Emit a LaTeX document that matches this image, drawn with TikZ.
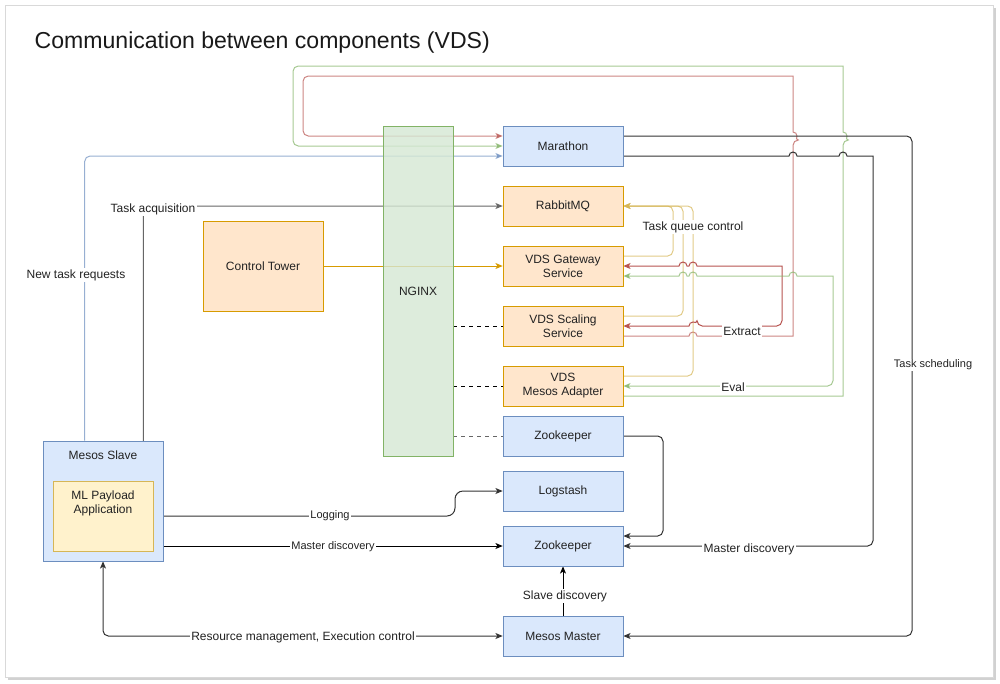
\documentclass[tikz,border=0pt]{standalone}
\usepackage{fontspec}
\setmainfont{Liberation Sans}
\usetikzlibrary{arrows.meta,calc,backgrounds}

\definecolor{bluefill}{HTML}{DAE8FC}
\definecolor{blueline}{HTML}{6C8EBF}
\definecolor{orangefill}{HTML}{FFE6CC}
\definecolor{orangeline}{HTML}{D79B00}
\definecolor{greenfill}{HTML}{D5E8D4}
\definecolor{greenline}{HTML}{82B366}
\definecolor{yellowfill}{HTML}{FFF2CC}
\definecolor{yellowline}{HTML}{D6B656}
\definecolor{redline}{HTML}{B85450}
\definecolor{grayline}{HTML}{666666}
\definecolor{textgray}{HTML}{222222}

\tikzset{
  box/.style={draw, minimum width=90pt, minimum height=30pt, align=center,
    inner sep=1pt, text=textgray, font=\fontsize{9}{10.5}\selectfont},
  bluebox/.style={box, draw=blueline, fill=bluefill},
  orangebox/.style={box, draw=orangeline, fill=orangefill},
  greenbox/.style={box, draw=greenline, fill=greenfill, fill opacity=.8, text opacity=1},
  yellowbox/.style={box, draw=yellowline, fill=yellowfill},
  link/.style={-{Stealth[length=5.5pt,width=4.5pt,inset=1.5pt]}, line width=.75pt,
    rounded corners=4pt},
  twoway/.style={link, {Stealth[length=5.5pt,width=4.5pt,inset=1.5pt]}-{Stealth[length=5.5pt,width=4.5pt,inset=1.5pt]}},
  faint/.style={opacity=.7},
  lbl/.style={fill=white, inner sep=1pt, text=textgray, font=\fontsize{8.25}{9.5}\selectfont},
  biglbl/.style={lbl, font=\fontsize{9}{10.5}\selectfont},
  boxlbl/.style={anchor=north, yshift=-4pt, align=center, text=textgray,
    font=\fontsize{9}{10.5}\selectfont}
}

\begin{document}
\begin{tikzpicture}[x=0.75pt, y=-0.75pt]
  \useasboundingbox (0,0) rectangle (1000,683);

  \node[anchor=west, text=black!90, font=\fontsize{17.3}{20}\selectfont] (title) at (30,43)
    {Communication between components (VDS)};

  % Services
  \node[bluebox] (marathon) at (563,146) {Marathon};
  \node[orangebox] (rabbit) at (563,206) {RabbitMQ};
  \node[orangebox] (gateway) at (563,266) {VDS Gateway\\Service};
  \node[orangebox] (scaling) at (563,326) {VDS Scaling\\Service};
  \node[orangebox] (adapter) at (563,386) {VDS\\Mesos Adapter};
  \node[bluebox] (zootop) at (563,436) {Zookeeper};
  \node[bluebox] (logstash) at (563,491) {Logstash};
  \node[bluebox] (zoo) at (563,546) {Zookeeper};
  \node[bluebox] (master) at (563,636) {Mesos Master};
  \node[greenbox, minimum width=52.5pt, minimum height=247.5pt] (nginx) at (418,291) {NGINX};
  \node[orangebox, minimum height=67.5pt] (tower) at (263,266) {Control Tower};

  % Slave with payload
  \node[bluebox, minimum height=90pt, label={[boxlbl]north:Mesos Slave}] (slave) at (103,501) {};
  \node[yellowbox, minimum width=75pt, minimum height=52.5pt,
    label={[boxlbl]north:ML Payload\\Application}] (payload) at (103,516) {};

  \begin{scope}[on background layer]
    % Page card
    \fill[black!18] (8,8) rectangle (996,680);
    \draw[black!15, fill=white] (5,5) rectangle (993,677);

    % Loops back to Marathon
    \draw[link, draw=redline, faint, sharp corners] ($(scaling.east)+(0,10)$) -- (689,336)
      arc[start angle=180, end angle=360, radius=4] -- (793,336) [rounded corners=4pt] -- (793,140)
      [sharp corners] arc[start angle=90, end angle=-90, radius=4] -- (793,76) [rounded corners=4pt]
      -- (303,76) -- (303,136) -- ($(marathon.west)+(0,-10)$);
    \draw[link, draw=greenline, faint, sharp corners] ($(adapter.east)+(0,10)$) -- (843,396)
      [rounded corners=4pt] -- (843,140) [sharp corners] arc[start angle=90, end angle=-90, radius=4]
      -- (843,66) [rounded corners=4pt] -- (293,66) -- (293,146) -- (marathon.west);
    \draw[link, draw=blueline, faint] ($(slave.north west)+(42,0)$)
      |- ($(marathon.west)+(0,10)$);
    \draw[link, draw=grayline] ($(payload.north east)+(-10,0)$) |- (rabbit.west);
    \draw[link, draw=orangeline] (tower.east) -- (gateway.west);

    % NGINX links
    \draw[dashed, line width=.75pt] (nginx.east |- scaling.west) -- (scaling.west);
    \draw[dashed, line width=.75pt] (nginx.east |- adapter.west) -- (adapter.west);
    \draw[dashed, line width=.75pt, grayline] (nginx.east |- zootop.west) -- (zootop.west);

    % Task queue control
    \draw[link, draw=yellowline, faint] ($(gateway.east)+(0,-10)$) -- (673,256) -- (673,206) -- (rabbit.east);
    \draw[link, draw=yellowline, faint] ($(scaling.east)+(0,-10)$) -- (683,316) -- (683,206) -- (rabbit.east);
    \draw[link, draw=yellowline, faint] ($(adapter.east)+(0,-10)$) -- (693,376) -- (693,206) -- (rabbit.east);

    % Extract and Eval
    \draw[twoway, draw=redline, sharp corners] (gateway.east) -- (679,266)
      arc[start angle=180, end angle=360, radius=4] -- (689,266)
      arc[start angle=180, end angle=360, radius=4] -- (782,266) [rounded corners=4pt]
      -- (782,326) -- (697,326) [sharp corners]
      arc[start angle=0, end angle=-180, radius=4] -- (scaling.east);
    \draw[twoway, draw=greenline, faint, sharp corners] ($(gateway.east)+(0,10)$) -- (679,276)
      arc[start angle=180, end angle=360, radius=4] -- (689,276)
      arc[start angle=180, end angle=360, radius=4] -- (789,276)
      arc[start angle=180, end angle=360, radius=4] -- (833,276) [rounded corners=4pt]
      -- (833,386) -- (adapter.east);

    % Marathon to Mesos
    \draw[link, draw=black!80, sharp corners] ($(marathon.east)+(0,10)$) -- (789,156)
      arc[start angle=180, end angle=360, radius=4] -- (839,156)
      arc[start angle=180, end angle=360, radius=4] -- (873,156) [rounded corners=4pt]
      -- (873,546) -- (zoo.east);
    \draw[link, draw=black!80] ($(marathon.east)+(0,-10)$) -- (912,136) -- (912,636) -- (master.east);

    % Discovery, logging, control
    \draw[link, draw=black!80] (zootop.east) -- (663,436) -- (663,536) -- ($(zoo.east)+(0,-10)$);
    \draw[link, draw=black!80, rounded corners=6pt] (payload.east) -| (455,491) -- (logstash.west);
    \draw[link] (slave.east |- zoo.west) -- (zoo.west);
    \draw[link] (master.north) -- (zoo.south);
    \draw[twoway, draw=black!80] (slave.south) |- (master.west);

    % Labels
    \node[biglbl] (acqlbl) at (153,209) {Task acquisition};
    \node[biglbl] (newlbl) at (76,275) {New task requests};
    \node[biglbl] (queuelbl) at (693,227) {Task queue control};
    \node[biglbl] (extractlbl) at (742,331) {Extract};
    \node[biglbl] (evallbl) at (733,387) {Eval};
    \node[lbl] (loglbl) at (330,516) {Logging};
    \node[lbl] (mdlbl) at (333,547) {Master discovery};
    \node[biglbl] (mdrlbl) at (749,549) {Master discovery};
    \node[biglbl] (sdlbl) at (565,596) {Slave discovery};
    \node[biglbl] (reslbl) at (303,637) {Resource management, Execution control};
    \node[lbl] (schedlbl) at (933,365) {Task scheduling};
  \end{scope}
\end{tikzpicture}
\end{document}
